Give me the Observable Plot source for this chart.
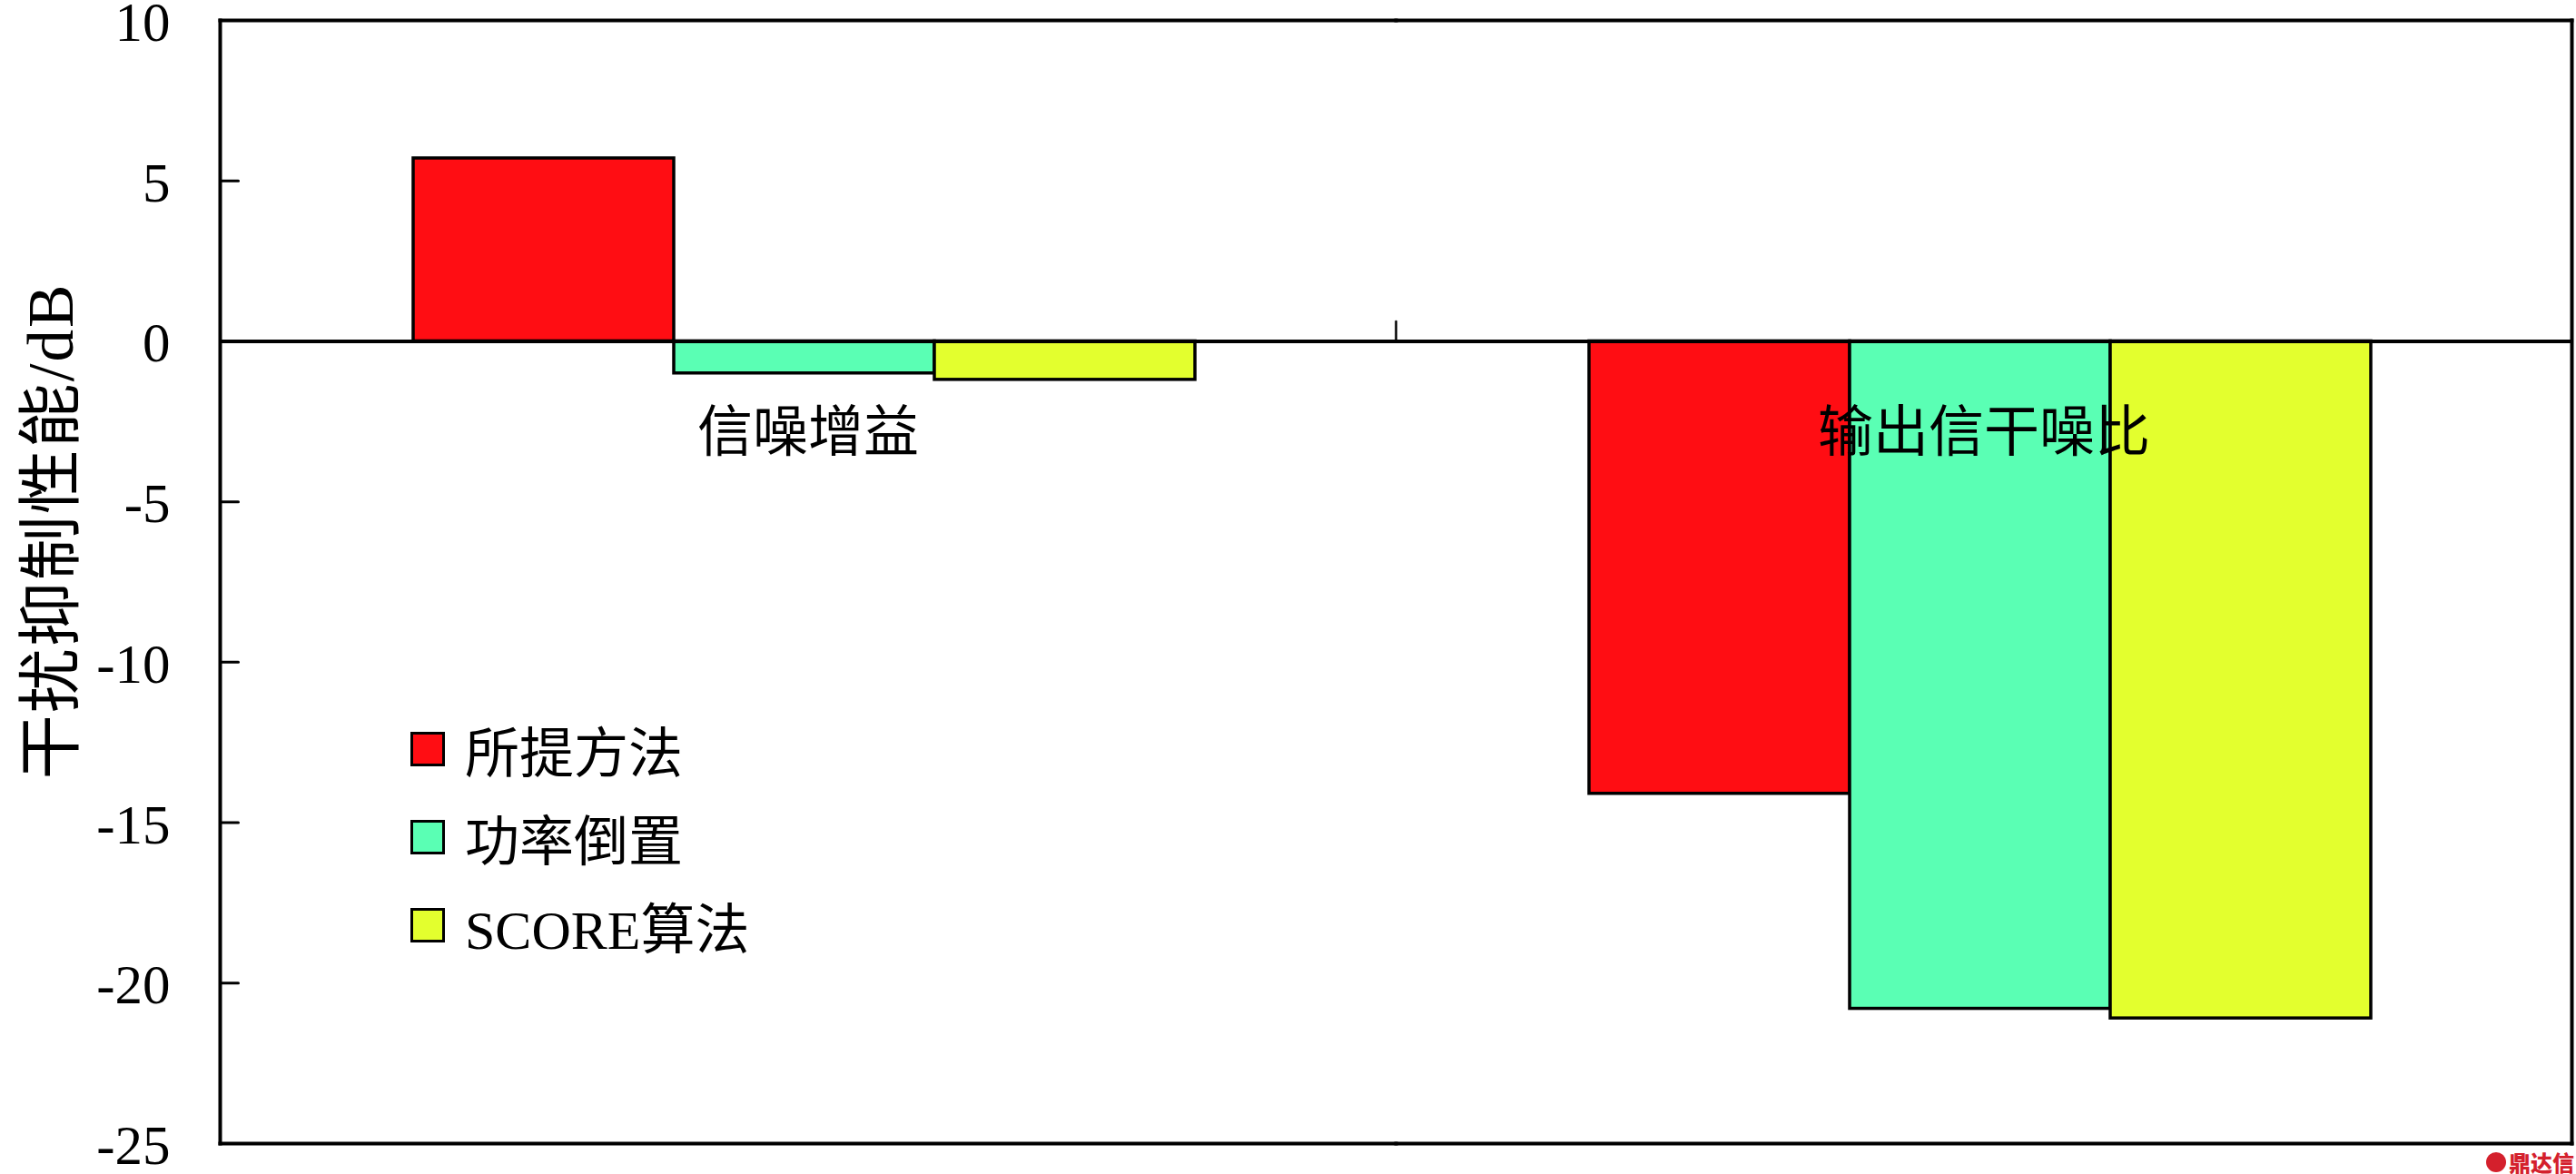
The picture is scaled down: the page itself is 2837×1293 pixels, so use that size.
<!DOCTYPE html>
<html>
<head>
<meta charset="utf-8">
<script src="https://cdn.jsdelivr.net/npm/d3@7"></script>
<script src="https://cdn.jsdelivr.net/npm/@observablehq/plot@0.6"></script>
<style>
  html, body { margin: 0; padding: 0; background: #fff; overflow: hidden; }
  #wrap { position: relative; width: 2837px; height: 1293px; }
  #legend { position: absolute; left: 452px; top: 776px; font-family: 'Liberation Serif', 'Noto Sans CJK SC', serif; font-size: 60px; color: #000; }
  .row { display: flex; align-items: center; height: 97px; }
  .sw { width: 32px; height: 32px; border: 3.5px solid #000; margin-right: 22px; box-sizing: content-box; }
  #ylab { position: absolute; left: 56px; top: 585px; transform: translate(-50%, -50%) rotate(-90deg); white-space: nowrap; font-family: 'Liberation Serif', 'Noto Sans CJK SC', serif; font-size: 71px; letter-spacing: 2px; color: #000; line-height: 1; }
  #wm { position: absolute; left: 2738px; top: 1262px; font-family: 'Noto Sans CJK SC', sans-serif; font-weight: 900; font-size: 24px; color: #d4202c; display: flex; align-items: center; }
  #wm .ic { width: 22px; height: 22px; border-radius: 50%; background: #d4202c; margin-right: 3px; }
</style>
</head>
<body>
<div id="wrap"></div>
<script>
const categories = ["信噪增益", "输出信干噪比"];
const methods = ["所提方法", "功率倒置", "SCORE算法"];
const proposed = [5.7, -14.1];
const powerInversion = [-1.0, -20.8];
const scoreAlg = [-1.2, -21.1];
const colors = ["#ff0d13", "#5affb4", "#e3ff2e"];
const yTicks = [-25, -20, -15, -10, -5, 0, 5, 10];
const yLabel = "干扰抑制性能/dB";

const series = [proposed, powerInversion, scoreAlg];
const data = [];
categories.forEach((c, i) => methods.forEach((m, j) => data.push({category: c, method: m, value: series[j][i]})));
const tickData = yTicks.map(v => ({category: categories[0], value: v}));

const upShape = {draw(context, l) { context.moveTo(0, 0); context.lineTo(0, -l); }};
const rightShape = {draw(context, l) { context.moveTo(0, 0); context.lineTo(l, 0); }};

const chart = Plot.plot({
  width: 2837,
  height: 1293,
  marginLeft: 241,
  marginRight: 5,
  marginTop: 22,
  marginBottom: 34,
  style: {fontFamily: "'Liberation Serif', 'Noto Sans CJK SC', serif", background: "white", color: "black", overflow: "visible"},
  fx: {domain: categories, padding: 0, axis: null},
  x: {domain: methods, paddingInner: 0, paddingOuter: 0.75, align: 0.49, axis: null},
  y: {domain: [-25, 10], axis: null},
  color: {domain: methods, range: colors},
  marks: [
    Plot.axisY({
      ticks: yTicks, tickSize: 0, tickPadding: 55,
      tickFormat: d => String(d), fontSize: 61, dy: 3,
      label: null
    }),
    Plot.barY(data, {fx: "category", x: "method", y: "value", fill: "method", stroke: "black", strokeWidth: 3.5}),
    Plot.ruleY([0], {strokeWidth: 4}),
    Plot.vector(tickData, {fx: "category", y: "value", frameAnchor: "left", length: 20, anchor: "start", shape: rightShape, stroke: "black", strokeWidth: 3}),
    Plot.vector(categories, {fx: d => d, y: () => 0, frameAnchor: "right", length: 22, rotate: 0, anchor: "start", shape: upShape, stroke: "black", strokeWidth: 2.5}),
    Plot.text(categories, {fx: d => d, y: () => 0, text: d => d, dy: 102, fontSize: 61, frameAnchor: "middle", fill: "black"}),
    Plot.frame({anchor: "top", strokeWidth: 4}),
    Plot.frame({anchor: "bottom", strokeWidth: 4}),
    Plot.frame({anchor: "left", facetAnchor: "left", strokeWidth: 4}),
    Plot.frame({anchor: "right", facetAnchor: "right", strokeWidth: 4})
  ]
});
const wrap = document.getElementById("wrap");
wrap.appendChild(chart);

const ylab = document.createElement("div");
ylab.id = "ylab";
ylab.textContent = yLabel;
wrap.appendChild(ylab);

const legend = document.createElement("div");
legend.id = "legend";
methods.forEach((m, j) => {
  const row = document.createElement("div");
  row.className = "row";
  const sw = document.createElement("span");
  sw.className = "sw";
  sw.style.background = colors[j];
  const t = document.createElement("span");
  t.textContent = m;
  row.appendChild(sw); row.appendChild(t);
  legend.appendChild(row);
});
wrap.appendChild(legend);

const wm = document.createElement("div");
wm.id = "wm";
wm.innerHTML = '<span class="ic"></span><span>鼎达信</span>';
wrap.appendChild(wm);
</script>
</body>
</html>
